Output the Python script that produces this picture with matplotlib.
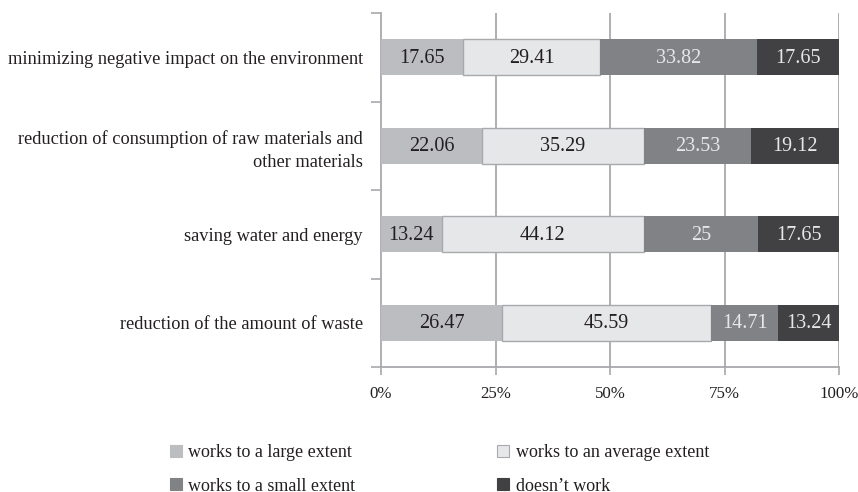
import matplotlib
matplotlib.use("Agg")
import matplotlib.pyplot as plt
import numpy as np
from matplotlib.patches import Patch

plt.rcParams['font.family'] = ['Liberation Serif', 'DejaVu Serif']

categories = [
    "minimizing negative impact on the environment",
    "reduction of consumption of raw materials and\nother materials",
    "saving water and energy",
    "reduction of the amount of waste",
]
series_names = ["works to a large extent", "works to an average extent",
                "works to a small extent", "doesn\u2019t work"]
large = [17.65, 22.06, 13.24, 26.47]
average = [29.41, 35.29, 44.12, 45.59]
small = [33.82, 23.53, 25, 14.71]
doesnt = [17.65, 19.12, 17.65, 13.24]
xtick_labels = ["0%", "25%", "50%", "75%", "100%"]

colors = ["#bcbdc0", "#e6e7e8", "#808285", "#414042"]
edgecolors = ["#bcbdc0", "#a7a9ac", "#808285", "#414042"]
textcolors = ["#231f20", "#231f20", "#e6e7e8", "#e6e7e8"]
grid_c = "#a7a9ac"

W, H = 858, 492
fig = plt.figure(figsize=(W / 100, H / 100), dpi=100)
ax = fig.add_axes([381 / W, 1 - 367 / H, (839 - 381) / W, (367 - 13) / H])

data = np.array([large, average, small, doesnt], dtype=float)
totals = data.sum(axis=0)
pct = data / totals * 100
n = len(categories)
y = np.arange(n)[::-1]  # top to bottom
left = np.zeros(n)
for i in range(4):
    ax.barh(y, pct[i], left=left, height=0.41, color=colors[i],
            edgecolor=edgecolors[i], linewidth=1.0 if i == 1 else 0, zorder=3)
    for j in range(n):
        ax.text(left[j] + pct[i][j] / 2, y[j] - 0.01, f"{data[i][j]:g}",
                ha="center", va="center", fontsize=14.5, color=textcolors[i], zorder=4)
    left += pct[i]

ax.set_xlim(0, 100)
ax.set_ylim(-0.5, n - 0.5)
ax.set_xticks([0, 25, 50, 75, 100])
ax.set_xticklabels(xtick_labels, fontsize=12.2, color="#231f20")
ax.set_yticks(y)
ax.set_yticklabels(categories, fontsize=13.2, color="#231f20", linespacing=1.47)
ax.tick_params(axis="y", length=0, pad=13)
ax.set_yticks(np.arange(-0.5, n, 1.0), minor=True)
ax.tick_params(axis="y", which="minor", length=7, width=1.2, color=grid_c)
ax.tick_params(axis="x", length=6, width=1.2, color=grid_c, pad=8)
for x in [25, 50, 75, 100]:
    ax.axvline(x, color=grid_c, linewidth=1.3, zorder=1)
for s in ["top", "right"]:
    ax.spines[s].set_visible(False)
for s in ["left", "bottom"]:
    ax.spines[s].set_color(grid_c)
    ax.spines[s].set_linewidth(1.3)

handles = [Patch(facecolor=colors[i], edgecolor=edgecolors[i], linewidth=0.8)
           for i in range(4)]
order = [0, 2, 1, 3]
fig.legend([handles[i] for i in order], [series_names[i] for i in order],
           ncol=2, loc="upper left", bbox_to_anchor=(170 / W, 1 - 444 / H),
           frameon=False, fontsize=13, handlelength=0.67, handleheight=0.67,
           handletextpad=0.35, columnspacing=7.85, labelspacing=0.92,
           borderpad=0, borderaxespad=0, labelcolor="#231f20")

fig.savefig("out.png", dpi=100)
